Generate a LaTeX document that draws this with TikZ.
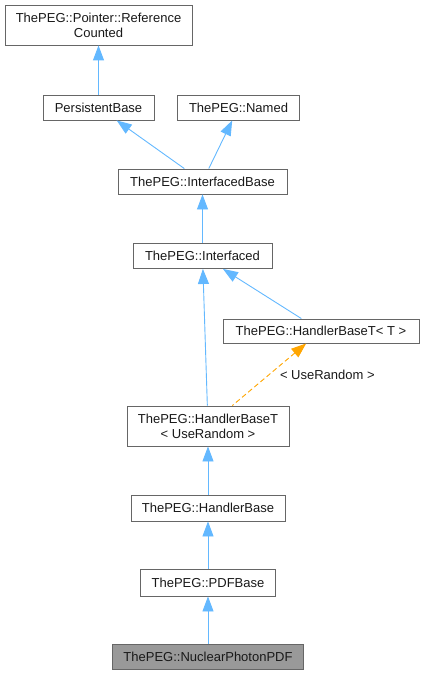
\documentclass[tikz,border=0pt]{standalone}
\usepackage{fontspec}
\setmainfont{Liberation Sans}
\usepackage{xcolor}
\usepackage{tikz}
\usetikzlibrary{arrows.meta,positioning}
\definecolor{edgeblue}{HTML}{63B8FF}
\definecolor{boxline}{HTML}{666666}
\definecolor{curfill}{HTML}{999999}
\definecolor{tmplorange}{HTML}{FFA500}

\begin{document}
\begin{tikzpicture}[
    x=1pt, y=-1pt,
    box/.style = {rectangle, draw=boxline, fill=white, line width=0.9pt,
                  align=center, inner sep=0pt, minimum height=25pt,
                  font=\fontsize{13}{15}\selectfont, text=black!90},
    arrow/.style = {{Triangle[length=15pt,width=11pt]}-, line width=0.9pt, edgeblue},
    tmpl/.style = {{Triangle[length=15pt,width=11pt]}-, line width=0.9pt, tmplorange,
                   dash pattern=on 5pt off 3pt}
  ]
    \useasboundingbox (0,0) rectangle (424,676);
    \node[box, minimum width=187pt, minimum height=40pt] (refc) at (98.5,25) {ThePEG::Pointer::Reference\\Counted};
    \node[box, minimum width=111pt] (pbase) at (98.5,107.5) {PersistentBase};
    \node[box, minimum width=122pt] (named) at (238.5,107.5) {ThePEG::Named};
    \node[box, minimum width=169pt] (ibase) at (202.5,181.5) {ThePEG::InterfacedBase};
    \node[box, minimum width=139pt] (iface) at (202.5,256) {ThePEG::Interfaced};
    \node[box, minimum width=196pt, minimum height=24pt] (hbtt) at (321,331) {ThePEG::HandlerBaseT< T >};
    \node[box, minimum width=162pt, minimum height=40pt] (hbtu) at (208,426) {ThePEG::HandlerBaseT\\< UseRandom >};
    \node[box, minimum width=154pt, minimum height=26pt] (hbase) at (208,508) {ThePEG::HandlerBase};
    \node[box, minimum width=135pt, minimum height=27pt] (pdfb) at (208,582.5) {ThePEG::PDFBase};
    \node[box, fill=curfill, minimum width=191pt] (nppdf) at (208,656.5) {ThePEG::NuclearPhotonPDF};
    \draw[arrow] (refc) -- (pbase);
    \draw[arrow] (pbase) -- (ibase);
    \draw[arrow] (named) -- (ibase);
    \draw[arrow] (ibase) -- (iface);
    \draw[arrow] (iface) -- (hbtt);
    \draw[arrow] (iface) -- (hbtu);
    \draw[tmpl] (hbtt) -- node[right=7pt, font=\fontsize{13}{15}\selectfont, text=black!90] (targ) {< UseRandom >} (hbtu);
    \draw[arrow] (hbtu) -- (hbase);
    \draw[arrow] (hbase) -- (pdfb);
    \draw[arrow] (pdfb) -- (nppdf);
  \end{tikzpicture}
\end{document}
